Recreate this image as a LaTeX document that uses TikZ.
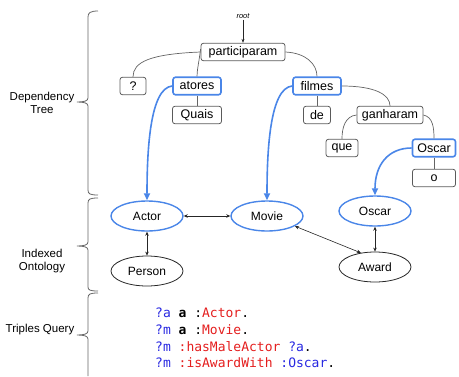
\documentclass[tikz,border=0pt]{standalone}
\usepackage{fontspec}
\setmainfont{Liberation Sans}
\newfontfamily\codefont{DejaVu Sans Mono}
\usetikzlibrary{arrows.meta,shapes.geometric}
\definecolor{gblue}{RGB}{74,134,232}
\definecolor{boxgray}{RGB}{90,90,90}
\definecolor{edgegray}{RGB}{100,100,100}
\definecolor{codeblue}{RGB}{40,40,225}
\definecolor{codered}{RGB}{228,30,30}
\tikzset{
  tbox/.style={draw=boxgray, line width=0.8pt, rounded corners=2.5pt, minimum height=17.5pt, inner sep=0pt, font=\fontsize{12.5}{13}\selectfont},
  bluebox/.style={tbox, draw=gblue, line width=1.6pt},
  onto/.style={ellipse, draw=black!85, line width=0.8pt, minimum width=72pt, minimum height=30pt, inner sep=0pt, font=\fontsize{12}{13}\selectfont},
  blueonto/.style={onto, draw=gblue, line width=1.4pt},
  tedge/.style={draw=edgegray, line width=0.7pt},
  bluearrow/.style={draw=gblue, line width=1.6pt, -{Triangle[length=7pt,width=6pt]}},
  dblarrow/.style={draw=black!85, line width=0.6pt, {Stealth[length=4pt,width=3.5pt]}-{Stealth[length=4pt,width=3.5pt]}},
  bracestyle/.style={draw=black!60, line width=0.8pt},
  sidelabel/.style={font=\fontsize{11.5}{13.5}\selectfont, align=center},
  codeline/.style={anchor=west, font=\codefont\fontsize{13}{14}\selectfont, inner sep=0pt}
}
\begin{document}
\begin{tikzpicture}[x=1pt,y=-1pt]
\useasboundingbox (0,0) rectangle (459,376);

% braces
\draw[bracestyle] (98,11) .. controls (90,11) and (88,13) .. (88,17) -- (88,98) .. controls (88,101) and (84,102) .. (77,102) .. controls (84,102) and (88,103) .. (88,106) -- (88,190) .. controls (88,194) and (90,195) .. (98,195);
\draw[bracestyle] (98,198) .. controls (90,198) and (88,199) .. (88,203) -- (88,242) .. controls (88,245) and (84,246) .. (77,246) .. controls (84,246) and (88,247) .. (88,250) -- (88,287) .. controls (88,290) and (90,291) .. (98,291);
\draw[bracestyle] (98,293) .. controls (90,293) and (88,294) .. (88,298) -- (88,331) .. controls (88,334) and (84,335) .. (77,335) .. controls (84,335) and (88,336) .. (88,339) -- (88,376);

\node[sidelabel] (lab1) at (42,103) {Dependency\\Tree};
\node[sidelabel] (lab2) at (42,261) {Indexed\\Ontology};
\node[sidelabel] (lab3) at (40,330) {Triples Query};

% tree
\node[font=\itshape\fontsize{7.5}{8}\selectfont, inner sep=1pt] (root) at (243,16) {root};
\node[tbox, minimum width=84pt] (part) at (243,52) {participaram};
\node[tbox, minimum width=26pt] (q) at (133,86) {?};
\node[bluebox, minimum width=48pt] (atores) at (197,86) {atores};
\node[tbox, minimum width=49pt] (quais) at (197,115) {Quais};
\node[bluebox, minimum width=48pt] (filmes) at (317,86) {filmes};
\node[tbox, minimum width=27pt] (de) at (317,115) {de};
\node[tbox, minimum width=66pt] (ganh) at (390,115) {ganharam};
\node[tbox, minimum width=32pt] (que) at (342,148) {que};
\node[bluebox, minimum width=43pt] (oscart) at (434,148) {Oscar};
\node[tbox, minimum width=43pt] (o) at (434,178) {o};

\draw[black!85, line width=0.6pt, -{Stealth[length=4pt,width=3pt]}] (root) -- (part);
\draw[tedge] (part.west) .. controls (150,54) and (133,62) .. (q.north);
\draw[tedge] ([yshift=3pt]part.west) .. controls (199,62) and (197,70) .. (atores.north);
\draw[tedge] (atores) -- (quais);
\draw[tedge] (part.east) .. controls (306,53) and (317,64) .. (filmes.north);
\draw[tedge] (filmes) -- (de);
\draw[tedge] (filmes.east) .. controls (376,86) and (390,95) .. (ganh.north);
\draw[tedge] (ganh.west) .. controls (345,116) and (342,128) .. (que.north);
\draw[tedge] (ganh.east) .. controls (433,117) and (434,128) .. (oscart.north);
\draw[tedge] (oscart) -- (o);

% ontology
\node[blueonto] (actor) at (147,216) {Actor};
\node[blueonto] (movie) at (267,216) {Movie};
\node[onto] (person) at (147,271) {Person};
\node[blueonto] (oscar) at (375,211) {Oscar};
\node[onto] (award) at (375,267) {Award};

\draw[bluearrow] (atores.west) .. controls (150,88) and (147,150) .. (actor.north);
\draw[bluearrow] (filmes.west) .. controls (270,88) and (267,150) .. (movie.north);
\draw[bluearrow] (oscart.west) .. controls (388,148) and (375,165) .. (oscar.north);

\draw[dblarrow] (actor) -- (movie);
\draw[dblarrow] (actor) -- (person);
\draw[dblarrow] (movie.-20) -- (award.135);
\draw[dblarrow] (oscar) -- (award);

% triples
\node[codeline] (l1) at (155,313) {\textcolor{codeblue}{?a} \textbf{a} :\textcolor{codered}{Actor}.};
\node[codeline] (l2) at (155,330) {\textcolor{codeblue}{?m} \textbf{a} :\textcolor{codered}{Movie}.};
\node[codeline] (l3) at (155,347) {\textcolor{codeblue}{?m} \textcolor{codered}{:hasMaleActor} \textcolor{codeblue}{?a}.};
\node[codeline] (l4) at (155,363) {\textcolor{codeblue}{?m} \textcolor{codered}{:isAwardWith} \textcolor{codeblue}{:Oscar}.};
\end{tikzpicture}
\end{document}
